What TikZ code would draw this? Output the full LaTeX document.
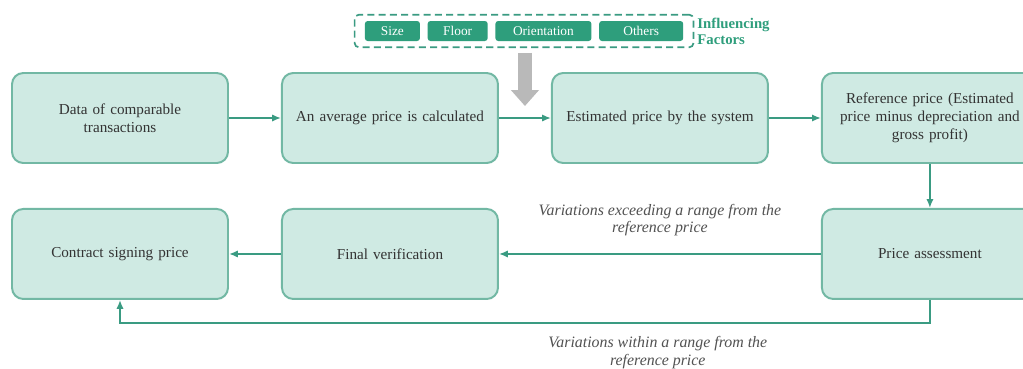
\documentclass[tikz,border=0pt]{standalone}
\usepackage{fontspec}
\setmainfont{Liberation Serif}
\usetikzlibrary{positioning, arrows.meta, calc, fit}
\definecolor{boxfill}{HTML}{CFEAE3}
\definecolor{boxline}{HTML}{72B8A4}
\definecolor{chipteal}{HTML}{2E9E7C}
\definecolor{flowteal}{HTML}{3A9B82}
\definecolor{txtgray}{HTML}{333333}

\begin{document}
\begin{tikzpicture}[
      stepbox/.style={draw=boxline, line width=1.4pt, fill=boxfill, rounded corners=8pt, minimum width=5.4cm, minimum height=2.25cm, text width=5.2cm, inner xsep=0.1cm, align=center, font=\fontsize{10.8}{13}\selectfont, text=txtgray},
      chip/.style={fill=chipteal, text=white, rounded corners=2pt, minimum height=0.5cm, minimum width=#1, font=\fontsize{9.5}{11}\selectfont, inner sep=1pt},
      flow/.style={-{Latex[length=2.2mm,width=1.8mm]}, line width=1.3pt, flowteal},
      note/.style={font=\fontsize{11.3}{12.5}\selectfont\itshape, text=txtgray!85, align=center}
    ]
      \useasboundingbox[fill=white] (0,0) rectangle (25.575,-9.2);

      % top row
      \node [stepbox] (data) at (3.0,-2.95) {Data of comparable\\transactions};
      \node [stepbox, right=1.3cm of data] (avg) {An average price is calculated};
      \node [stepbox, right=1.3cm of avg] (est) {Estimated price by the system};
      \node [stepbox, right=1.3cm of est] (ref) {Reference price (Estimated\\price minus depreciation and\\gross profit)};

      % bottom row
      \node [stepbox, below=1.1cm of data] (sign) {Contract signing price};
      \node [stepbox, below=1.1cm of avg] (verify) {Final verification};
      \node [stepbox, below=1.1cm of ref] (assess) {Price assessment};

      % influencing factors
      \node [chip=1.375cm] (size) at (9.81,-0.775) {Size};
      \node [chip=1.5cm, right=0.18cm of size] (floor) {Floor};
      \node [chip=2.4cm, right=0.18cm of floor] (orient) {Orientation};
      \node [chip=2.1cm, right=0.18cm of orient] (others) {Others};
      \node [draw=flowteal, dash pattern=on 5pt off 3pt, line width=1.2pt, rounded corners=3pt, fit=(size)(others), inner xsep=0.25cm, inner ysep=0.15cm] (factors) {};
      \node [right=0pt of factors, inner sep=2pt, align=left, text=chipteal, font=\fontsize{10.5}{11.5}\selectfont\bfseries] (factlabel) {Influencing\\Factors};

      \coordinate (drop) at ($(avg.east)!0.5!(est.west)+(0,0.3)$);
      \draw [gray!55, line width=0.33cm, -{Triangle[width=0.68cm,length=0.4cm]}] ([yshift=-0.12cm]factors.south -| drop) -- (drop);

      \draw [flow] (data) -- (avg);
      \draw [flow] (avg) -- (est);
      \draw [flow] (est) -- (ref);
      \draw [flow] (ref) -- (assess);
      \draw [flow] (assess) -- node [note, midway, above=0.3cm] {Variations exceeding a range from the\\reference price} (verify);
      \draw [flow] (verify) -- (sign);
      \coordinate [below=0.575cm of assess.south] (loop);
      \draw [flow] (assess.south) -- (loop) -| node [note, pos=0.168, below=0.2cm] {Variations within a range from the\\reference price} (sign.south);
    \end{tikzpicture}
\end{document}
